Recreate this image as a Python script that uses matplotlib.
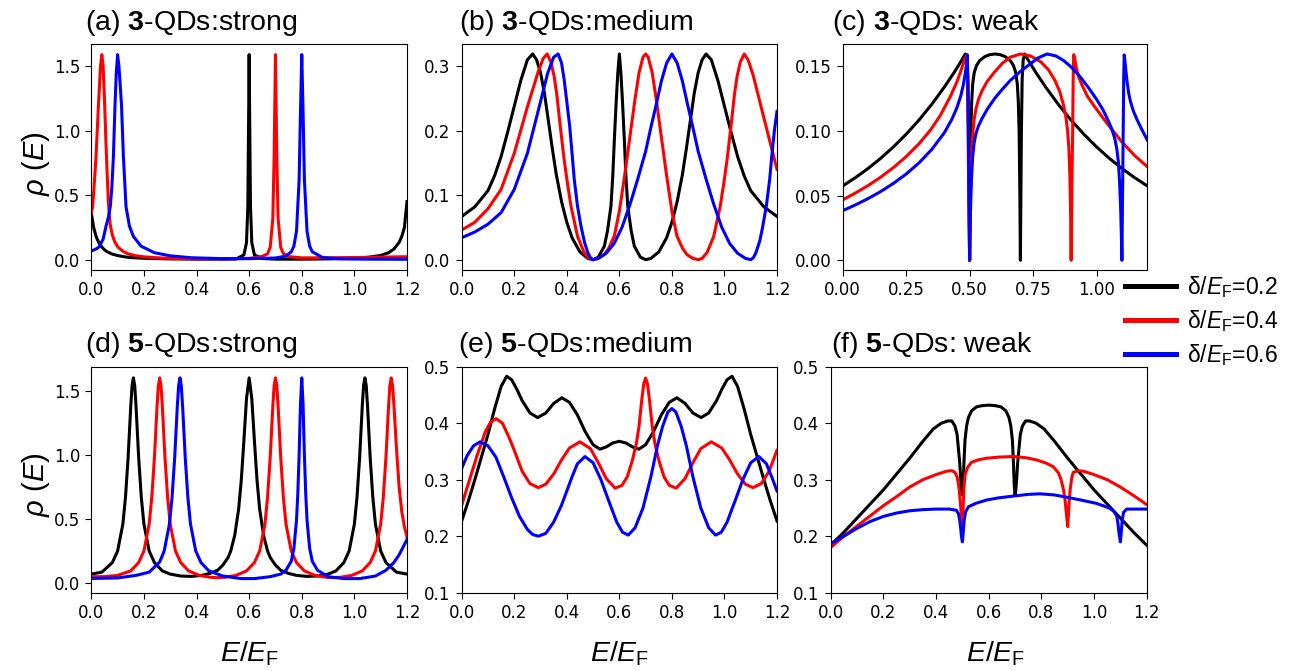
import matplotlib
matplotlib.use("Agg")
import matplotlib.pyplot as plt
from matplotlib.lines import Line2D

plt.rcParams["font.family"] = "DejaVu Sans"
plt.rcParams["mathtext.fontset"] = "custom"
plt.rcParams["mathtext.rm"] = "Liberation Sans"
plt.rcParams["mathtext.it"] = "Liberation Sans:italic"
plt.rcParams["mathtext.bf"] = "Liberation Sans:bold"

# ---- (a) 3-QDs strong ----
A_BLACK_X = [0.0, 0.01, 0.02, 0.03, 0.04, 0.05, 0.06, 0.08, 0.1, 0.13, 0.16, 0.2, 0.3, 0.4, 0.5, 0.55, 0.58, 0.59,
             0.595, 0.598, 0.6, 0.602, 0.605, 0.61, 0.62, 0.65, 0.7, 0.8, 0.9, 1.0, 1.05, 1.1, 1.13, 1.15, 1.17,
             1.18, 1.19, 1.2]
A_BLACK_Y = [0.36, 0.24, 0.17, 0.127, 0.098, 0.077, 0.062, 0.043, 0.032, 0.021, 0.015, 0.011, 0.006, 0.004, 0.004,
             0.005, 0.037, 0.133, 0.42, 1.1, 1.59, 1.1, 0.42, 0.133, 0.037, 0.009, 0.004, 0.004, 0.006, 0.011, 0.018,
             0.033, 0.054, 0.082, 0.134, 0.18, 0.247, 0.45]
A_RED_X = [0.0, 0.005, 0.01, 0.018, 0.027, 0.035, 0.04, 0.045, 0.05, 0.055, 0.06, 0.065, 0.072, 0.08, 0.09, 0.1,
           0.12, 0.14, 0.17, 0.2, 0.25, 0.3, 0.4, 0.5, 0.6, 0.65, 0.67, 0.68, 0.69, 0.695, 0.7, 0.705, 0.71, 0.72,
           0.73, 0.75, 0.8, 0.9, 1.0, 1.1, 1.2]
A_RED_Y = [0.36, 0.41, 0.55, 0.8, 1.19, 1.5, 1.59, 1.5, 1.25, 0.95, 0.68, 0.44, 0.27, 0.19, 0.135, 0.1, 0.065,
           0.045, 0.03, 0.022, 0.015, 0.01, 0.007, 0.007, 0.01, 0.026, 0.045, 0.095, 0.32, 0.8, 1.59, 0.8, 0.32,
           0.095, 0.048, 0.024, 0.014, 0.015, 0.017, 0.02, 0.023]
A_BLUE_X = [0.0, 0.02, 0.03, 0.045, 0.056, 0.065, 0.072, 0.078, 0.084, 0.09, 0.095, 0.1, 0.105, 0.11, 0.115, 0.122,
            0.132, 0.145, 0.16, 0.189, 0.24, 0.3, 0.38, 0.5, 0.6, 0.7, 0.74, 0.76, 0.77, 0.78, 0.79, 0.795, 0.8,
            0.805, 0.81, 0.82, 0.83, 0.84, 0.88, 0.95, 1.05, 1.2]
A_BLUE_Y = [0.067, 0.085, 0.1, 0.16, 0.26, 0.33, 0.41, 0.56, 0.8, 1.19, 1.45, 1.59, 1.5, 1.35, 1.19, 0.8, 0.41,
            0.26, 0.18, 0.105, 0.054, 0.03, 0.015, 0.008, 0.008, 0.013, 0.028, 0.061, 0.105, 0.22, 0.62, 1.14, 1.59,
            1.14, 0.62, 0.22, 0.105, 0.061, 0.016, 0.006, 0.004, 0.003]

# ---- (b) 3-QDs medium ----
B_BLACK_X = [0.0, 0.05, 0.1, 0.125, 0.15, 0.175, 0.2, 0.225, 0.25, 0.27, 0.285, 0.3, 0.315, 0.33, 0.345, 0.36,
             0.38, 0.4, 0.42, 0.45, 0.48, 0.5, 0.52, 0.543, 0.555, 0.568, 0.575, 0.581, 0.588, 0.594, 0.6, 0.606,
             0.612, 0.619, 0.625, 0.632, 0.645, 0.657, 0.68, 0.7, 0.72, 0.75, 0.78, 0.8, 0.82, 0.84, 0.855, 0.87,
             0.885, 0.9, 0.915, 0.93, 0.95, 0.975, 1.0, 1.025, 1.05, 1.075, 1.1, 1.15, 1.2]
B_BLACK_Y = [0.067, 0.082, 0.107, 0.13, 0.16, 0.198, 0.238, 0.278, 0.31, 0.319, 0.31, 0.29, 0.258, 0.215, 0.172,
             0.132, 0.09, 0.058, 0.034, 0.012, 0.002, 0.0, 0.004, 0.021, 0.045, 0.083, 0.13, 0.186, 0.245, 0.289,
             0.319, 0.289, 0.245, 0.186, 0.13, 0.083, 0.045, 0.021, 0.004, 0.0, 0.002, 0.012, 0.034, 0.058, 0.09,
             0.132, 0.172, 0.215, 0.258, 0.29, 0.31, 0.319, 0.31, 0.278, 0.238, 0.198, 0.16, 0.13, 0.107, 0.082,
             0.067]
B_RED_X = [0.0, 0.05, 0.1, 0.15, 0.2, 0.25, 0.29, 0.31, 0.325, 0.34, 0.352, 0.362, 0.371, 0.38, 0.39, 0.403, 0.416,
           0.441, 0.466, 0.485, 0.5, 0.52, 0.543, 0.56, 0.581, 0.6, 0.62, 0.64, 0.66, 0.675, 0.69, 0.7, 0.71, 0.725,
           0.74, 0.76, 0.78, 0.8, 0.819, 0.84, 0.857, 0.88, 0.9, 0.915, 0.934, 0.959, 0.984, 0.997, 1.01, 1.02,
           1.029, 1.038, 1.048, 1.06, 1.075, 1.09, 1.11, 1.15, 1.2]
B_RED_Y = [0.046, 0.058, 0.079, 0.109, 0.165, 0.237, 0.29, 0.312, 0.319, 0.306, 0.284, 0.256, 0.222, 0.19, 0.155,
           0.117, 0.083, 0.036, 0.011, 0.002, 0.0, 0.002, 0.008, 0.018, 0.037, 0.075, 0.13, 0.19, 0.25, 0.29, 0.314,
           0.319, 0.314, 0.29, 0.25, 0.19, 0.13, 0.075, 0.037, 0.018, 0.008, 0.002, 0.0, 0.002, 0.011, 0.036, 0.083,
           0.117, 0.155, 0.19, 0.222, 0.256, 0.284, 0.306, 0.319, 0.31, 0.285, 0.22, 0.14]
B_BLUE_X = [0.0, 0.05, 0.1, 0.15, 0.2, 0.25, 0.3, 0.327, 0.35, 0.367, 0.38, 0.39, 0.4, 0.411, 0.42, 0.4285, 0.44,
            0.454, 0.468, 0.48, 0.49, 0.5, 0.52, 0.55, 0.58, 0.61, 0.64, 0.67, 0.7, 0.72, 0.74, 0.76, 0.78, 0.8,
            0.82, 0.84, 0.86, 0.88, 0.9, 0.93, 0.96, 0.99, 1.02, 1.05, 1.08, 1.1, 1.11, 1.12, 1.135, 1.146, 1.16,
            1.172, 1.18, 1.19, 1.2]
B_BLUE_Y = [0.034, 0.043, 0.055, 0.073, 0.109, 0.165, 0.245, 0.289, 0.314, 0.319, 0.305, 0.279, 0.245, 0.207,
            0.165, 0.124, 0.085, 0.052, 0.026, 0.011, 0.003, 0.0, 0.002, 0.01, 0.025, 0.05, 0.085, 0.125, 0.168,
            0.205, 0.24, 0.277, 0.305, 0.319, 0.305, 0.277, 0.24, 0.205, 0.168, 0.125, 0.085, 0.05, 0.025, 0.01,
            0.002, 0.0, 0.003, 0.011, 0.03, 0.052, 0.085, 0.124, 0.16, 0.2, 0.23]

# ---- (c) 3-QDs weak ----
C_BLACK_X = [0.0, 0.05, 0.1, 0.15, 0.2, 0.25, 0.3, 0.35, 0.4, 0.44, 0.47, 0.483, 0.489, 0.493, 0.496, 0.498, 0.5,
             0.502, 0.505, 0.508, 0.512, 0.518, 0.527, 0.54, 0.56, 0.58, 0.6, 0.62, 0.64, 0.66, 0.673, 0.682, 0.688,
             0.692, 0.695, 0.698, 0.7, 0.702, 0.704, 0.707, 0.711, 0.717, 0.73, 0.76, 0.8, 0.85, 0.9, 0.95, 1.0,
             1.05, 1.1, 1.15, 1.2]
C_BLACK_Y = [0.0575, 0.0639, 0.071, 0.0789, 0.0877, 0.0975, 0.1083, 0.1204, 0.1338, 0.1455, 0.1551, 0.1595, 0.155,
             0.14, 0.1, 0.05, 0.0, 0.05, 0.1, 0.122, 0.136, 0.145, 0.1505, 0.1545, 0.1575, 0.159, 0.1595, 0.159,
             0.1575, 0.1545, 0.1505, 0.145, 0.136, 0.122, 0.1, 0.05, 0.0, 0.05, 0.1, 0.14, 0.155, 0.1595, 0.1551,
             0.1455, 0.1338, 0.1204, 0.1083, 0.0975, 0.0877, 0.0789, 0.071, 0.0639, 0.0575]
C_RED_X = [0.0, 0.05, 0.1, 0.15, 0.2, 0.25, 0.3, 0.345, 0.384, 0.424, 0.45, 0.463, 0.475, 0.483, 0.49, 0.492, 0.494,
           0.497, 0.5, 0.503, 0.506, 0.509, 0.513, 0.518, 0.525, 0.535, 0.55, 0.57, 0.6, 0.63, 0.66, 0.7, 0.74, 0.78,
           0.81, 0.835, 0.855, 0.87, 0.88, 0.886, 0.891, 0.895, 0.898, 0.9, 0.903, 0.906, 0.908, 0.91, 0.914, 0.92,
           0.93, 0.945, 0.965, 0.99, 1.016, 1.055, 1.1, 1.15, 1.2]
C_RED_Y = [0.0467, 0.052, 0.0578, 0.0643, 0.0717, 0.0802, 0.09, 0.1005, 0.1118, 0.1266, 0.138, 0.145, 0.152,
           0.1565, 0.159, 0.14, 0.1, 0.04, 0.0, 0.045, 0.07, 0.086, 0.099, 0.109, 0.117, 0.1245, 0.1315, 0.1385,
           0.146, 0.1525, 0.157, 0.1595, 0.158, 0.1535, 0.1475, 0.1395, 0.1305, 0.12, 0.11, 0.1, 0.087, 0.065,
           0.035, 0.0, 0.06, 0.1, 0.14, 0.159, 0.156, 0.149, 0.1415, 0.1345, 0.1265, 0.1195, 0.1125, 0.1025,
           0.0915, 0.081, 0.0724]
C_BLUE_X = [0.0, 0.05, 0.1, 0.15, 0.2, 0.25, 0.3, 0.35, 0.4, 0.43, 0.45, 0.465, 0.475, 0.483, 0.488, 0.491, 0.493,
            0.495, 0.498, 0.5, 0.503, 0.507, 0.512, 0.518, 0.525, 0.535, 0.55, 0.57, 0.6, 0.63, 0.66, 0.7, 0.74,
            0.77, 0.805, 0.84, 0.87, 0.9, 0.935, 0.97, 1.0, 1.025, 1.045, 1.06, 1.072, 1.08, 1.086, 1.091, 1.095,
            1.098, 1.1, 1.102, 1.105, 1.107, 1.109, 1.112, 1.116, 1.121, 1.127, 1.134, 1.145, 1.16, 1.18, 1.2]
C_BLUE_Y = [0.0384, 0.0428, 0.0477, 0.0532, 0.0595, 0.0667, 0.0752, 0.0855, 0.0985, 0.109, 0.118, 0.127, 0.1355,
            0.1445, 0.152, 0.1588, 0.14, 0.1, 0.04, 0.0, 0.035, 0.062, 0.08, 0.091, 0.098, 0.104, 0.11, 0.117,
            0.1255, 0.1325, 0.139, 0.146, 0.152, 0.1565, 0.1595, 0.158, 0.1545, 0.1495, 0.142, 0.133, 0.1245,
            0.1165, 0.1085, 0.1015, 0.094, 0.086, 0.076, 0.06, 0.04, 0.018, 0.0, 0.04, 0.1, 0.14, 0.1588, 0.154,
            0.146, 0.137, 0.129, 0.1225, 0.1155, 0.1085, 0.1005, 0.093]

# ---- (d) 5-QDs strong ----
D_BLACK_X = [0.0, 0.04, 0.08, 0.1, 0.12, 0.13, 0.14, 0.15, 0.155, 0.16, 0.165, 0.17, 0.18, 0.19, 0.2, 0.22, 0.24,
             0.27, 0.3, 0.34, 0.38, 0.42, 0.45, 0.48, 0.5, 0.52, 0.53, 0.545, 0.56, 0.57, 0.58, 0.59, 0.6, 0.61,
             0.62, 0.63, 0.64, 0.655, 0.67, 0.68, 0.7, 0.72, 0.75, 0.78, 0.82, 0.86, 0.9, 0.93, 0.96, 0.98, 1.0,
             1.01, 1.02, 1.03, 1.035, 1.04, 1.045, 1.05, 1.06, 1.07, 1.08, 1.1, 1.12, 1.16, 1.2]
D_BLACK_Y = [0.07, 0.085, 0.16, 0.25, 0.46, 0.67, 0.98, 1.38, 1.54, 1.6, 1.54, 1.38, 0.98, 0.67, 0.46, 0.25, 0.16,
             0.095, 0.07, 0.055, 0.052, 0.06, 0.075, 0.1, 0.14, 0.2, 0.25, 0.37, 0.576, 0.8, 1.11, 1.44, 1.6, 1.44,
             1.11, 0.8, 0.576, 0.37, 0.25, 0.2, 0.14, 0.1, 0.075, 0.06, 0.052, 0.055, 0.07, 0.095, 0.16, 0.25, 0.46,
             0.67, 0.98, 1.38, 1.54, 1.6, 1.54, 1.38, 0.98, 0.67, 0.46, 0.25, 0.16, 0.085, 0.07]
D_RED_X = [0.0, 0.05, 0.1, 0.15, 0.18, 0.2, 0.22, 0.23, 0.24, 0.25, 0.255, 0.26, 0.265, 0.27, 0.28, 0.29, 0.3, 0.32,
           0.34, 0.37, 0.41, 0.45, 0.48, 0.51, 0.55, 0.59, 0.62, 0.64, 0.66, 0.67, 0.68, 0.69, 0.695, 0.7, 0.705,
           0.71, 0.72, 0.73, 0.74, 0.76, 0.78, 0.81, 0.85, 0.89, 0.92, 0.95, 0.99, 1.03, 1.06, 1.08, 1.1, 1.11, 1.12,
           1.13, 1.135, 1.14, 1.145, 1.15, 1.16, 1.17, 1.18, 1.19, 1.2]
D_RED_Y = [0.05, 0.05, 0.06, 0.095, 0.16, 0.25, 0.46, 0.67, 0.98, 1.38, 1.54, 1.6, 1.54, 1.38, 0.98, 0.67, 0.46,
           0.25, 0.16, 0.095, 0.06, 0.046, 0.042, 0.046, 0.06, 0.095, 0.16, 0.25, 0.46, 0.67, 0.98, 1.38, 1.54, 1.6,
           1.54, 1.38, 0.98, 0.67, 0.46, 0.25, 0.16, 0.095, 0.06, 0.046, 0.042, 0.046, 0.06, 0.095, 0.16, 0.25,
           0.46, 0.67, 0.98, 1.38, 1.54, 1.6, 1.54, 1.4, 1.05, 0.75, 0.56, 0.44, 0.36]
D_BLUE_X = [0.0, 0.1, 0.17, 0.22, 0.26, 0.277, 0.297, 0.307, 0.317, 0.327, 0.332, 0.337, 0.342, 0.347, 0.357, 0.367,
            0.377, 0.397, 0.417, 0.447, 0.5, 0.57, 0.62, 0.68, 0.72, 0.74, 0.76, 0.77, 0.78, 0.785, 0.79, 0.795, 0.8,
            0.805, 0.81, 0.815, 0.82, 0.83, 0.84, 0.86, 0.9, 0.96, 1.02, 1.08, 1.12, 1.15, 1.17, 1.19, 1.2]
D_BLUE_Y = [0.036, 0.04, 0.06, 0.085, 0.165, 0.25, 0.46, 0.67, 0.98, 1.38, 1.54, 1.6, 1.54, 1.38, 0.98, 0.67, 0.46,
            0.25, 0.16, 0.095, 0.055, 0.035, 0.035, 0.05, 0.07, 0.1, 0.17, 0.27, 0.49, 0.7, 1.0, 1.39, 1.6, 1.39,
            1.0, 0.7, 0.49, 0.27, 0.17, 0.1, 0.05, 0.035, 0.035, 0.055, 0.1, 0.16, 0.22, 0.3, 0.34]

# ---- (e) 5-QDs medium ----
E_BLACK_X = [0.0, 0.025, 0.05, 0.075, 0.1, 0.125, 0.15, 0.171, 0.19, 0.21, 0.23, 0.26, 0.289, 0.32, 0.35, 0.381,
             0.41, 0.44, 0.47, 0.5, 0.526, 0.55, 0.575, 0.6, 0.625, 0.65, 0.674, 0.7, 0.73, 0.76, 0.79, 0.819, 0.85,
             0.88, 0.911, 0.94, 0.97, 0.99, 1.01, 1.029, 1.05, 1.075, 1.1, 1.125, 1.15, 1.175, 1.2]
E_BLACK_Y = [0.227, 0.262, 0.3, 0.34, 0.38, 0.425, 0.465, 0.483, 0.477, 0.46, 0.44, 0.418, 0.41, 0.418, 0.435,
             0.445, 0.437, 0.415, 0.385, 0.362, 0.354, 0.358, 0.365, 0.368, 0.365, 0.358, 0.354, 0.362, 0.385, 0.415,
             0.437, 0.445, 0.435, 0.418, 0.41, 0.418, 0.44, 0.46, 0.477, 0.483, 0.465, 0.425, 0.38, 0.34, 0.3, 0.262,
             0.227]
E_RED_X = [0.0, 0.03, 0.06, 0.09, 0.11, 0.131, 0.155, 0.18, 0.2, 0.23, 0.26, 0.292, 0.32, 0.35, 0.38, 0.41, 0.45,
           0.49, 0.52, 0.55, 0.584, 0.61, 0.63, 0.65, 0.665, 0.675, 0.685, 0.693, 0.7, 0.707, 0.715, 0.725, 0.735,
           0.75, 0.77, 0.79, 0.816, 0.85, 0.88, 0.91, 0.95, 0.99, 1.02, 1.05, 1.08, 1.108, 1.14, 1.17, 1.2]
E_RED_Y = [0.255, 0.3, 0.345, 0.385, 0.402, 0.408, 0.4, 0.375, 0.352, 0.315, 0.293, 0.286, 0.292, 0.31, 0.335,
           0.356, 0.367, 0.355, 0.33, 0.302, 0.285, 0.29, 0.305, 0.335, 0.365, 0.395, 0.44, 0.47, 0.48, 0.47, 0.44,
           0.395, 0.365, 0.335, 0.305, 0.29, 0.285, 0.302, 0.33, 0.355, 0.367, 0.356, 0.335, 0.31, 0.292, 0.286,
           0.293, 0.315, 0.352]
E_BLUE_X = [0.0, 0.02, 0.045, 0.07, 0.1, 0.13, 0.16, 0.19, 0.22, 0.25, 0.27, 0.292, 0.32, 0.35, 0.38, 0.4, 0.42,
            0.44, 0.469, 0.5, 0.53, 0.56, 0.59, 0.612, 0.634, 0.66, 0.69, 0.72, 0.745, 0.765, 0.785, 0.8, 0.815,
            0.835, 0.855, 0.88, 0.91, 0.94, 0.966, 0.988, 1.01, 1.04, 1.07, 1.1, 1.131, 1.16, 1.18, 1.2]
E_BLUE_Y = [0.32, 0.342, 0.36, 0.367, 0.36, 0.34, 0.305, 0.268, 0.235, 0.212, 0.203, 0.2, 0.205, 0.225, 0.255,
            0.28, 0.305, 0.328, 0.341, 0.33, 0.3, 0.262, 0.225, 0.207, 0.202, 0.215, 0.25, 0.305, 0.36, 0.395, 0.42,
            0.426, 0.42, 0.395, 0.36, 0.305, 0.25, 0.215, 0.202, 0.207, 0.225, 0.262, 0.3, 0.33, 0.341, 0.328,
            0.305, 0.28]

# ---- (f) 5-QDs weak ----
F_BLACK_X = [0.0, 0.05, 0.1, 0.15, 0.2, 0.25, 0.3, 0.35, 0.39, 0.42, 0.445, 0.46, 0.472, 0.48, 0.485, 0.49, 0.494,
             0.497, 0.5, 0.503, 0.506, 0.51, 0.516, 0.523, 0.535, 0.554, 0.575, 0.6, 0.625, 0.646, 0.665, 0.677,
             0.684, 0.69, 0.694, 0.697, 0.7, 0.703, 0.706, 0.71, 0.715, 0.72, 0.728, 0.74, 0.755, 0.78, 0.81, 0.85,
             0.9, 0.95, 1.0, 1.05, 1.1, 1.15, 1.2]
F_BLACK_Y = [0.184, 0.207, 0.232, 0.257, 0.282, 0.31, 0.338, 0.368, 0.39, 0.4, 0.404, 0.404, 0.395, 0.38, 0.355,
             0.33, 0.3, 0.282, 0.273, 0.29, 0.33, 0.37, 0.395, 0.41, 0.422, 0.429, 0.431, 0.432, 0.431, 0.429, 0.422,
             0.41, 0.395, 0.37, 0.33, 0.29, 0.273, 0.282, 0.3, 0.33, 0.355, 0.38, 0.395, 0.404, 0.404, 0.4, 0.39,
             0.368, 0.338, 0.31, 0.282, 0.257, 0.232, 0.207, 0.184]
F_RED_X = [0.0, 0.05, 0.1, 0.15, 0.2, 0.25, 0.3, 0.35, 0.4, 0.44, 0.46, 0.472, 0.48, 0.486, 0.49, 0.494, 0.497, 0.5,
           0.503, 0.506, 0.51, 0.52, 0.535, 0.56, 0.592, 0.64, 0.694, 0.74, 0.782, 0.82, 0.845, 0.865, 0.875, 0.885,
           0.89, 0.895, 0.9, 0.903, 0.906, 0.91, 0.916, 0.921, 0.94, 0.96, 1.0, 1.05, 1.1, 1.15, 1.2]
F_RED_Y = [0.18, 0.2, 0.218, 0.236, 0.254, 0.27, 0.287, 0.3, 0.309, 0.315, 0.316, 0.313, 0.305, 0.29, 0.272, 0.25,
           0.23, 0.217, 0.25, 0.285, 0.308, 0.322, 0.331, 0.335, 0.338, 0.34, 0.341, 0.339, 0.335, 0.329, 0.323,
           0.312, 0.3, 0.28, 0.264, 0.24, 0.217, 0.24, 0.265, 0.285, 0.305, 0.313, 0.316, 0.315, 0.309, 0.3, 0.287,
           0.272, 0.256]
F_BLUE_X = [0.0, 0.05, 0.1, 0.15, 0.2, 0.25, 0.3, 0.35, 0.4, 0.45, 0.477, 0.485, 0.49, 0.494, 0.497, 0.5, 0.503,
            0.507, 0.512, 0.523, 0.55, 0.592, 0.64, 0.694, 0.75, 0.795, 0.85, 0.896, 0.95, 1.01, 1.04, 1.061, 1.075,
            1.086, 1.091, 1.095, 1.1, 1.103, 1.107, 1.112, 1.124, 1.15, 1.2]
F_BLUE_Y = [0.187, 0.2, 0.214, 0.226, 0.235, 0.241, 0.245, 0.247, 0.248, 0.248, 0.246, 0.24, 0.228, 0.212, 0.198,
            0.19, 0.205, 0.228, 0.243, 0.252, 0.258, 0.264, 0.268, 0.271, 0.274, 0.275, 0.273, 0.269, 0.264, 0.258,
            0.253, 0.249, 0.244, 0.236, 0.222, 0.205, 0.19, 0.205, 0.228, 0.242, 0.248, 0.248, 0.248]

COLORS = ["black", "red", "blue"]
DELTAS = ["0.2", "0.4", "0.6"]
TITLES = [r"(a) $\mathbf{3}$-QDs:strong", r"(b) $\mathbf{3}$-QDs:medium", r"(c) $\mathbf{3}$-QDs: weak",
          r"(d) $\mathbf{5}$-QDs:strong", r"(e) $\mathbf{5}$-QDs:medium", r"(f) $\mathbf{5}$-QDs: weak"]

W, H = 1301, 671
LABEL_FONT = "Liberation Sans"


def px_box(left, top, right, bottom):
    return [left / W, 1 - bottom / H, (right - left) / W, (bottom - top) / H]


fig = plt.figure(figsize=(W / 100, H / 100), dpi=100)

panels = [
    (px_box(91.3, 44.3, 407, 270), [(A_BLACK_X, A_BLACK_Y), (A_RED_X, A_RED_Y), (A_BLUE_X, A_BLUE_Y)],
     (-0.08, 1.67), [0, 0.5, 1.0, 1.5], (85, 30.5)),
    (px_box(461.7, 44.3, 777, 270), [(B_BLACK_X, B_BLACK_Y), (B_RED_X, B_RED_Y), (B_BLUE_X, B_BLUE_Y)],
     (-0.016, 0.334), [0, 0.1, 0.2, 0.3], (459.3, 30.5)),
    (px_box(842.7, 44.3, 1147.3, 270), [(C_BLACK_X, C_BLACK_Y), (C_RED_X, C_RED_Y), (C_BLUE_X, C_BLUE_Y)],
     (-0.0075, 0.167), [0, 0.05, 0.10, 0.15], (831.7, 30.5)),
    (px_box(91.3, 366.7, 407, 592.7), [(D_BLACK_X, D_BLACK_Y), (D_RED_X, D_RED_Y), (D_BLUE_X, D_BLUE_Y)],
     (-0.075, 1.687), [0, 0.5, 1.0, 1.5], (85, 352.5)),
    (px_box(461.7, 366.7, 777, 592.7), [(E_BLACK_X, E_BLACK_Y), (E_RED_X, E_RED_Y), (E_BLUE_X, E_BLUE_Y)],
     (0.1, 0.5), [0.1, 0.2, 0.3, 0.4, 0.5], (458.3, 352.5)),
    (px_box(830.7, 366.7, 1146.7, 592.7), [(F_BLACK_X, F_BLACK_Y), (F_RED_X, F_RED_Y), (F_BLUE_X, F_BLUE_Y)],
     (0.1, 0.5), [0.1, 0.2, 0.3, 0.4, 0.5], (830.7, 352.5)),
]

for i, (box, curves, ylim, yticks, title_xy) in enumerate(panels):
    ax = fig.add_axes(box)
    for (xs, ys), color in zip(curves, COLORS):
        ax.plot(xs, ys, color=color, lw=2.2)
    ax.set_xlim(0, 1.2)
    ax.set_ylim(*ylim)
    ax.set_yticks(yticks)
    if i == 2:
        ax.set_xticks([0, 0.25, 0.5, 0.75, 1.0])
        ax.set_yticklabels(["0.00", "0.05", "0.10", "0.15"])
        ax.set_xticklabels(["0.00", "0.25", "0.50", "0.75", "1.00"])
    else:
        ax.set_xticks([0, 0.2, 0.4, 0.6, 0.8, 1.0, 1.2])
    ax.tick_params(labelsize=12, length=4.5, width=0.8)
    fig.text(title_xy[0] / W, 1 - title_xy[1] / H, TITLES[i], fontsize=20.5,
             family=LABEL_FONT, ha="left", va="baseline")

# y labels
for yc in (163.5, 484.5):
    fig.text(36 / W, 1 - yc / H, r"$\rho\ (E)$", rotation=90, fontsize=21,
             family=LABEL_FONT, ha="center", va="center")

# x labels
for xc in (250, 620, 996):
    fig.text(xc / W, 1 - 661.7 / H, r"$E/E_\mathrm{F}$", fontsize=20.5,
             family=LABEL_FONT, ha="center", va="baseline")

handles = [Line2D([], [], color=c, lw=3.6) for c in COLORS]
labels = [r"δ/$E_\mathrm{F}$=" + d for d in DELTAS]
fig.legend(handles, labels, loc="upper left", bbox_to_anchor=(1116 / W, 1 - 265 / H),
           frameon=False, prop={"family": LABEL_FONT, "size": 16.5}, handlelength=2.2,
           handletextpad=0.5, labelspacing=0.35, borderaxespad=0, borderpad=0.4)

fig.savefig("out.png", dpi=100)
